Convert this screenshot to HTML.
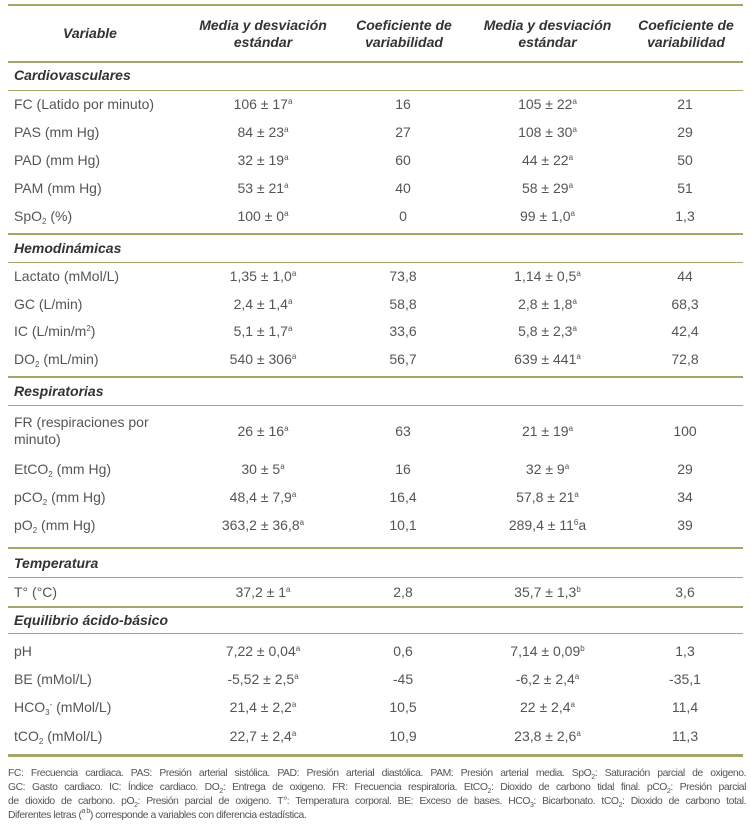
<!DOCTYPE html>
<html><head><meta charset="utf-8">
<style>
body{margin:0;width:751px;height:826px;background:#fff;position:relative;overflow:hidden;font-family:"Liberation Sans",sans-serif;color:#555;}
.ln{position:absolute;left:8px;width:735px;background:#a6a56a;}
.r{position:absolute;left:0;width:751px;font-size:14px;line-height:17px;}
.r span{position:absolute;white-space:nowrap;}
.v{left:14px;}
.c2{left:188px;width:150px;text-align:center;}
.c3{left:338px;width:130px;text-align:center;}
.c4{left:470px;width:155px;text-align:center;}
.c5{left:625px;width:120px;text-align:center;}
.sec{position:absolute;left:14px;font-weight:bold;font-style:italic;color:#333;font-size:14px;}
.hd{position:absolute;font-weight:bold;font-style:italic;color:#333;font-size:14px;text-align:center;line-height:17px;}
sup{font-size:8px;vertical-align:5px;line-height:0;}
sub{font-size:8px;vertical-align:-3px;line-height:0;}
.foot{position:absolute;left:8px;top:767px;width:738px;font-size:10.4px;line-height:14px;color:#555;letter-spacing:-0.45px;}
.foot div{text-align:justify;text-align-last:justify;white-space:nowrap;overflow:visible;}
.foot div.last{text-align-last:left;}
.foot sub,.foot sup{font-size:7px;}
</style></head><body>
<div>
<div class="ln" style="top:4px;height:2px"></div>
<div class="hd" style="left:20px;width:140px;top:25px">Variable</div>
<div class="hd" style="left:188px;width:150px;top:17px">Media y desviación estándar</div>
<div class="hd" style="left:343px;width:122px;top:17px">Coeficiente de variabilidad</div>
<div class="hd" style="left:470px;width:155px;top:17px">Media y desviación estándar</div>
<div class="hd" style="left:625px;width:122px;top:17px">Coeficiente de variabilidad</div>
<div class="ln" style="top:61px;height:2px"></div>

<div class="sec" style="top:67px">Cardiovasculares</div>
<div class="ln" style="top:90px;height:1px"></div>
<div class="r" style="top:96px"><span class="v">FC (Latido por minuto)</span><span class="c2">106 ± 17<sup>a</sup></span><span class="c3">16</span><span class="c4">105 ± 22<sup>a</sup></span><span class="c5">21</span></div>
<div class="r" style="top:124px"><span class="v">PAS (mm Hg)</span><span class="c2">84 ± 23<sup>a</sup></span><span class="c3">27</span><span class="c4">108 ± 30<sup>a</sup></span><span class="c5">29</span></div>
<div class="r" style="top:152px"><span class="v">PAD (mm Hg)</span><span class="c2">32 ± 19<sup>a</sup></span><span class="c3">60</span><span class="c4">44 ± 22<sup>a</sup></span><span class="c5">50</span></div>
<div class="r" style="top:180px"><span class="v">PAM (mm Hg)</span><span class="c2">53 ± 21<sup>a</sup></span><span class="c3">40</span><span class="c4">58 ± 29<sup>a</sup></span><span class="c5">51</span></div>
<div class="r" style="top:208px"><span class="v">SpO<sub>2</sub> (%)</span><span class="c2">100 ± 0<sup>a</sup></span><span class="c3">0</span><span class="c4">99 ± 1,0<sup>a</sup></span><span class="c5">1,3</span></div>
<div class="ln" style="top:233px;height:2px"></div>

<div class="sec" style="top:240px">Hemodinámicas</div>
<div class="ln" style="top:262px;height:1px"></div>
<div class="r" style="top:268px"><span class="v">Lactato (mMol/L)</span><span class="c2">1,35 ± 1,0<sup>a</sup></span><span class="c3">73,8</span><span class="c4">1,14 ± 0,5<sup>a</sup></span><span class="c5">44</span></div>
<div class="r" style="top:296px"><span class="v">GC (L/min)</span><span class="c2">2,4 ± 1,4<sup>a</sup></span><span class="c3">58,8</span><span class="c4">2,8 ± 1,8<sup>a</sup></span><span class="c5">68,3</span></div>
<div class="r" style="top:323px"><span class="v">IC (L/min/m<sup>2</sup>)</span><span class="c2">5,1 ± 1,7<sup>a</sup></span><span class="c3">33,6</span><span class="c4">5,8 ± 2,3<sup>a</sup></span><span class="c5">42,4</span></div>
<div class="r" style="top:351px"><span class="v">DO<sub>2</sub> (mL/min)</span><span class="c2">540 ± 306<sup>a</sup></span><span class="c3">56,7</span><span class="c4">639 ± 441<sup>a</sup></span><span class="c5">72,8</span></div>
<div class="ln" style="top:376px;height:2px"></div>

<div class="sec" style="top:383px">Respiratorias</div>
<div class="ln" style="top:405px;height:1px"></div>
<div class="r" style="top:414px"><span class="v">FR (respiraciones por<br>minuto)</span><span class="c2" style="top:9px">26 ± 16<sup>a</sup></span><span class="c3" style="top:9px">63</span><span class="c4" style="top:9px">21 ± 19<sup>a</sup></span><span class="c5" style="top:9px">100</span></div>
<div class="r" style="top:461px"><span class="v">EtCO<sub>2</sub> (mm Hg)</span><span class="c2">30 ± 5<sup>a</sup></span><span class="c3">16</span><span class="c4">32 ± 9<sup>a</sup></span><span class="c5">29</span></div>
<div class="r" style="top:489px"><span class="v">pCO<sub>2</sub> (mm Hg)</span><span class="c2">48,4 ± 7,9<sup>a</sup></span><span class="c3">16,4</span><span class="c4">57,8 ± 21<sup>a</sup></span><span class="c5">34</span></div>
<div class="r" style="top:517px"><span class="v">pO<sub>2</sub> (mm Hg)</span><span class="c2">363,2 ± 36,8<sup>a</sup></span><span class="c3">10,1</span><span class="c4">289,4 ± 11<sup>6</sup>a</span><span class="c5">39</span></div>
<div class="ln" style="top:547px;height:2px"></div>

<div class="sec" style="top:555px">Temperatura</div>
<div class="ln" style="top:577px;height:1px"></div>
<div class="r" style="top:584px"><span class="v">T° (°C)</span><span class="c2">37,2 ± 1<sup>a</sup></span><span class="c3">2,8</span><span class="c4">35,7 ± 1,3<sup>b</sup></span><span class="c5">3,6</span></div>
<div class="ln" style="top:606px;height:2px"></div>

<div class="sec" style="top:612px">Equilibrio ácido-básico</div>
<div class="ln" style="top:633px;height:1px"></div>
<div class="r" style="top:643px"><span class="v">pH</span><span class="c2">7,22 ± 0,04<sup>a</sup></span><span class="c3">0,6</span><span class="c4">7,14 ± 0,09<sup>b</sup></span><span class="c5">1,3</span></div>
<div class="r" style="top:671px"><span class="v">BE (mMol/L)</span><span class="c2">-5,52 ± 2,5<sup>a</sup></span><span class="c3">-45</span><span class="c4">-6,2 ± 2,4<sup>a</sup></span><span class="c5">-35,1</span></div>
<div class="r" style="top:699px"><span class="v">HCO<sub>3</sub><sup>-</sup> (mMol/L)</span><span class="c2">21,4 ± 2,2<sup>a</sup></span><span class="c3">10,5</span><span class="c4">22 ± 2,4<sup>a</sup></span><span class="c5">11,4</span></div>
<div class="r" style="top:728px"><span class="v">tCO<sub>2</sub> (mMol/L)</span><span class="c2">22,7 ± 2,4<sup>a</sup></span><span class="c3">10,9</span><span class="c4">23,8 ± 2,6<sup>a</sup></span><span class="c5">11,3</span></div>
<div class="ln" style="top:754px;height:3px"></div>
</div>
<div class="foot">
<div>FC: Frecuencia cardiaca. PAS: Presión arterial sistólica. PAD: Presión arterial diastólica. PAM: Presión arterial media. SpO<sub>2</sub>: Saturación parcial de oxigeno.</div>
<div>GC: Gasto cardiaco. IC: Índice cardiaco. DO<sub>2</sub>: Entrega de oxigeno. FR: Frecuencia respiratoria. EtCO<sub>2</sub>: Dioxido de carbono tidal final. pCO<sub>2</sub>: Presión parcial</div>
<div>de dioxido de carbono. pO<sub>2</sub>: Presión parcial de oxigeno. T°: Temperatura corporal. BE: Exceso de bases. HCO<sub>3</sub>: Bicarbonato. tCO<sub>2</sub>: Dioxido de carbono total.</div>
<div class="last">Diferentes letras (<sup>a b</sup>) corresponde a variables con diferencia estadística.</div>
</div>
</body></html>
